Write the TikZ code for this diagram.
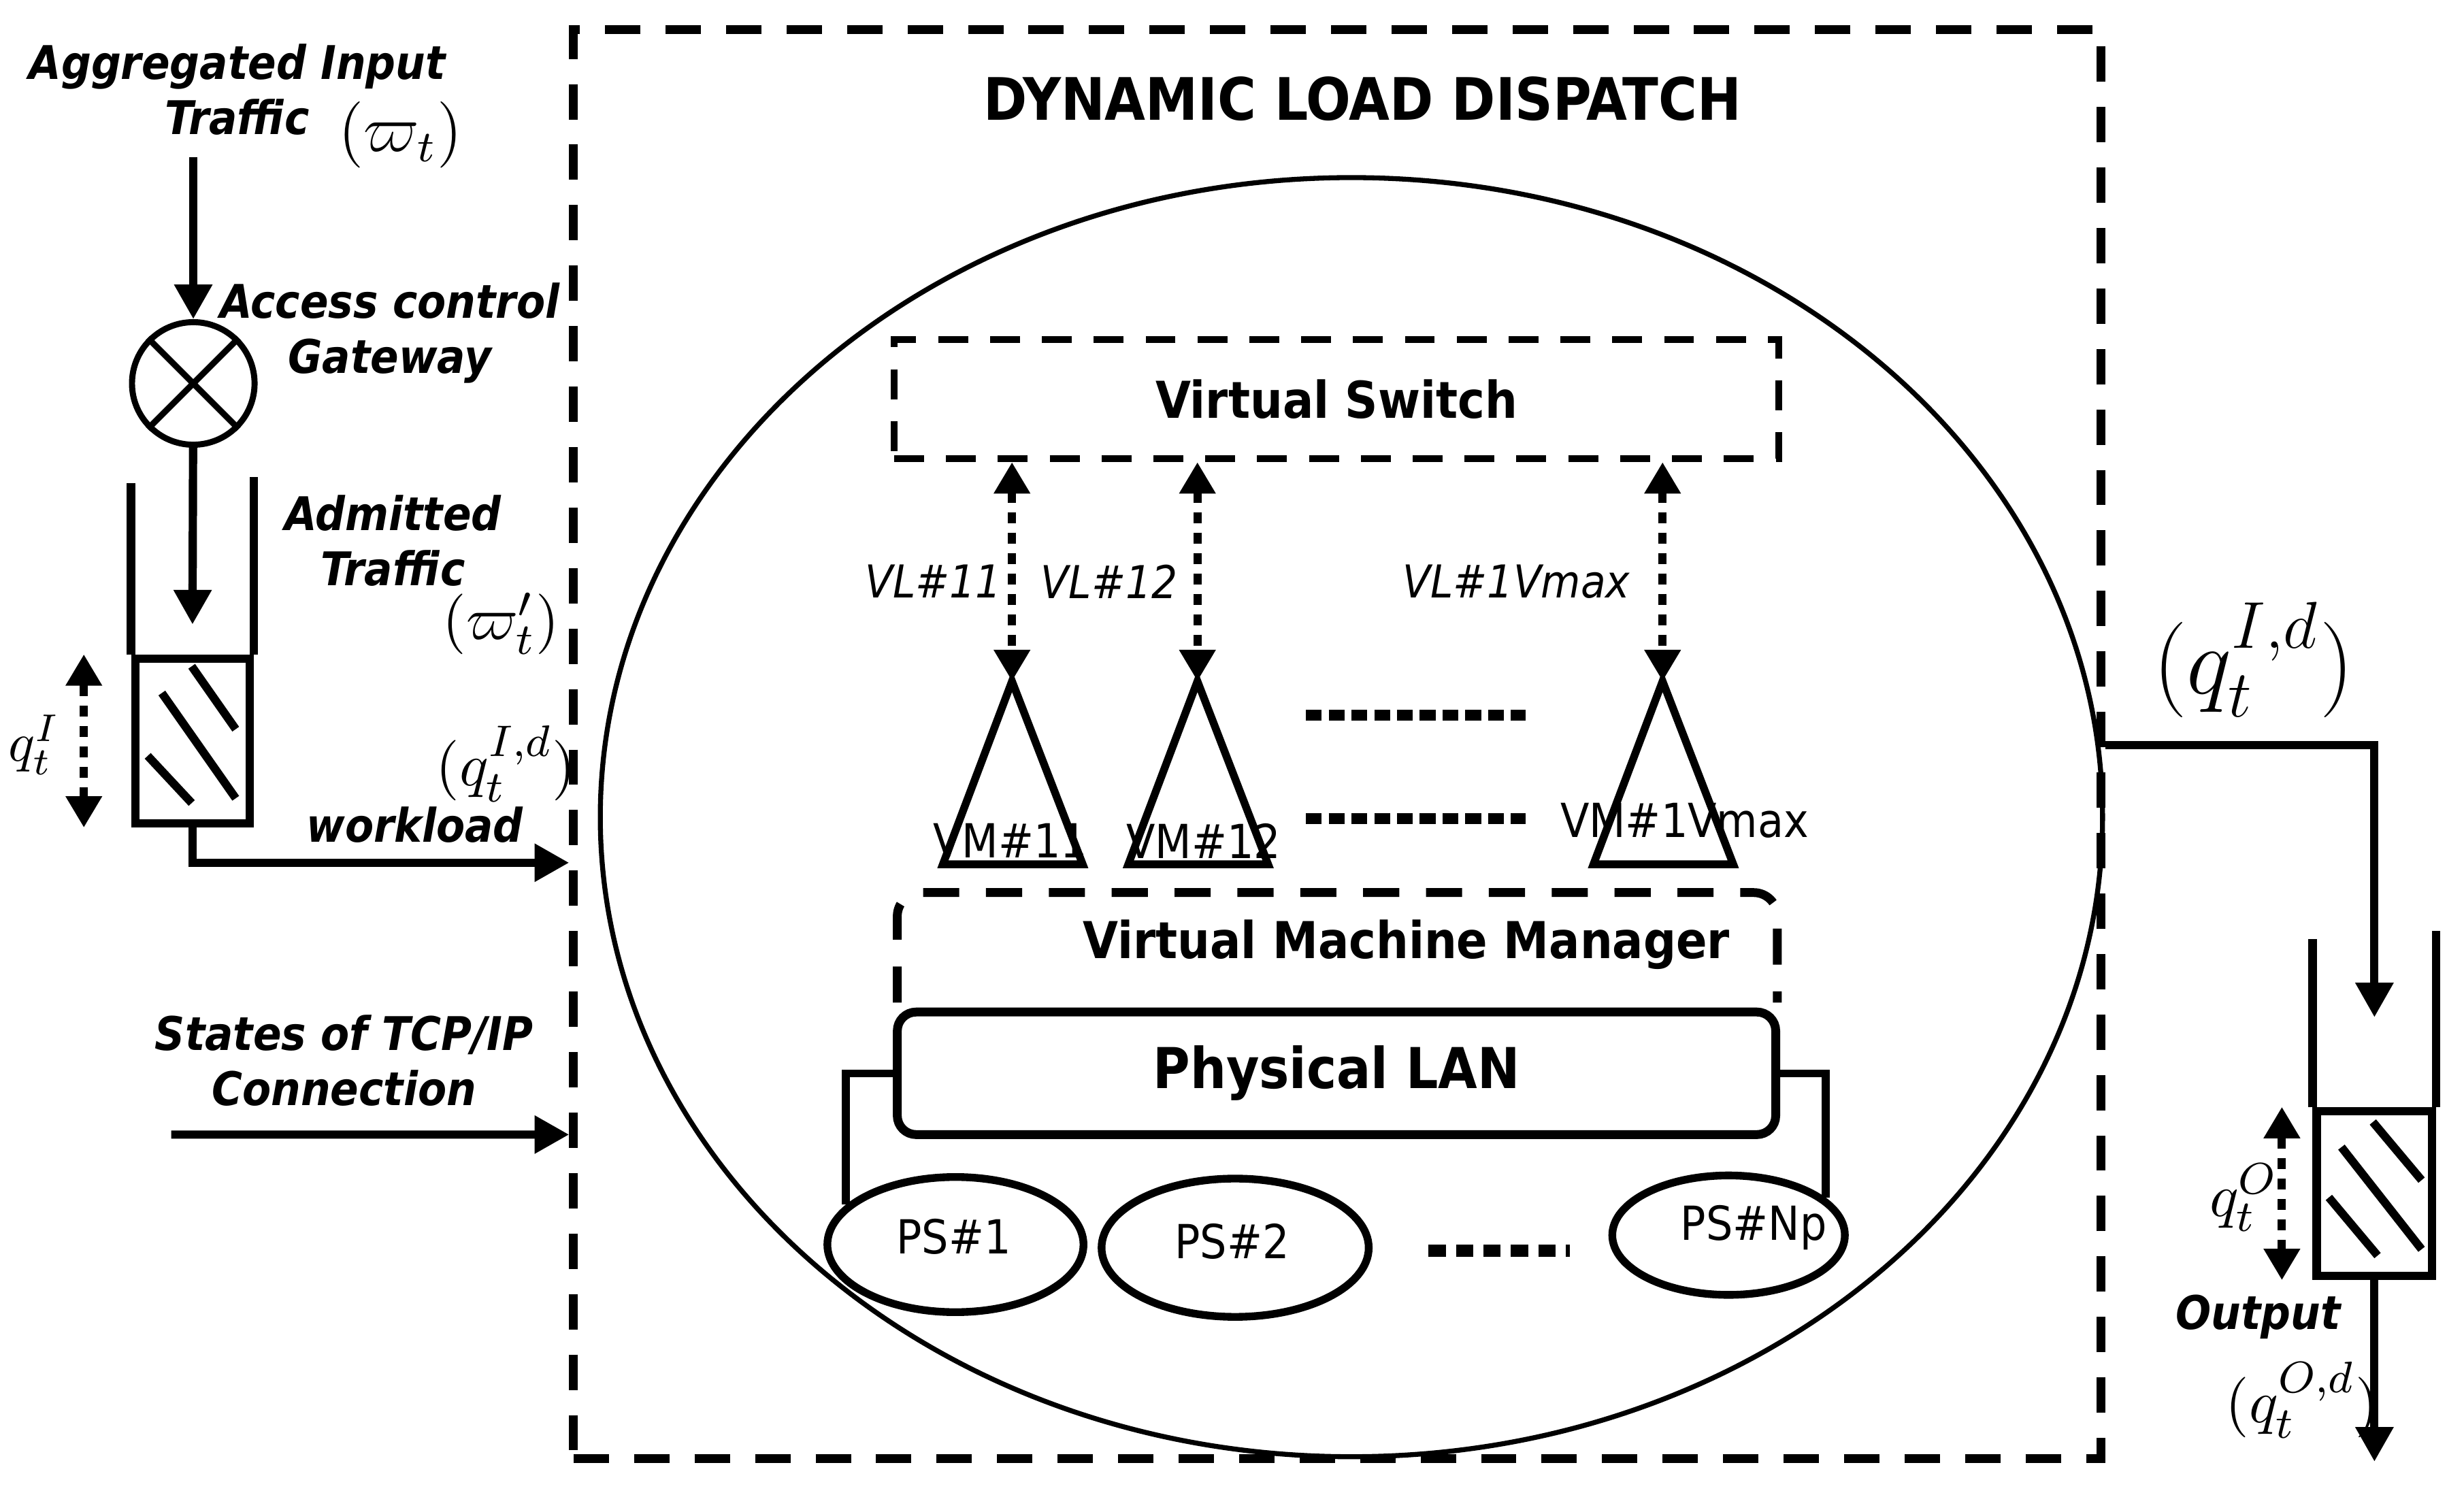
\documentclass[tikz,border=0pt]{standalone}
\usepackage{amsmath}
\usepackage{fontspec}
\setmainfont{DejaVu Sans Condensed}
\usetikzlibrary{arrows.meta,positioning,shapes.geometric}

\begin{document}
\begin{tikzpicture}[x=0.1mm,y=-0.1mm,
  headtip/.style={-{Triangle[width=2.3mm,length=2.2mm]}},
  flow/.style={line width=1.5pt,headtip},
  dotlink/.style={line width=1.5pt,dash pattern=on 0.7mm off 0.6mm,{Triangle[width=2.2mm,length=2mm]}-{Triangle[width=2.2mm,length=2mm]}},
  wall/.style={line width=1.5pt},
  hatch/.style={line width=1.5pt},
  lbl/.style={font=\fontsize{8.4}{10}\selectfont\bfseries\itshape,align=center,inner sep=0pt},
  mth/.style={inner sep=0pt,font=\fontsize{11}{11}\selectfont},
  box/.style={font=\fontsize{9.2}{11}\selectfont\bfseries,inner sep=0pt},
  vlabel/.style={font=\fontsize{8.2}{10}\selectfont\itshape,inner sep=0pt},
  plain/.style={font=\fontsize{8.5}{10}\selectfont,inner sep=0pt},
  dotrow/.style={line width=0.7mm,dash pattern=on 1mm off 0.45mm},
  dldframe/.style={draw,line width=1.6pt,dash pattern=on 2.25mm off 1.6mm,minimum width=97.2mm,minimum height=90.9mm,inner sep=0pt},
  server/.style={draw,ellipse,line width=1.4pt,inner sep=0pt},
]
\useasboundingbox (0,0) rectangle (1568,951);

\node[dldframe] (dld) at (851,473.5) {};
\node[box,font=\fontsize{10.6}{12}\selectfont\bfseries] (ttl) at (867,63) {DYNAMIC LOAD DISPATCH};
\draw[line width=0.9pt] (860,520) ellipse [x radius=47.8mm,y radius=40.7mm];

% input side
\node[lbl] (aggr) at (151,57) {Aggregated Input\\Traffic};
\node[mth,font=\fontsize{12}{12}\selectfont] (w) at (255,86) {$(\varpi_t)$};
\node[draw,circle,line width=1.1pt,minimum size=7.8mm,inner sep=0pt] (gate) at (123,244) {};
\draw[line width=1.1pt] (gate.45) -- (gate.225) (gate.135) -- (gate.-45);
\coordinate (src) at (123,100);
\draw[flow] (src) -- (gate);
\node[lbl] (acc) at (248,212) {Access control\\Gateway};

\node[draw,wall,minimum width=7.3mm,minimum height=10.5mm,inner sep=0pt] (qin) at (122.5,471.5) {};
\draw[wall] (qin.north west) -- ++(0,-109) (qin.north east) -- ++(0,-113);
\path (qin.north) ++(0,-19) coordinate (qtop);
\draw[flow] (gate) -- (qtop);
\draw[hatch] (122,424) -- (150,464) (103,441) -- (150,508) (94,481) -- (122,511);
\draw[dotlink] ([xshift=-3mm]qin.south west) -- ([xshift=-3mm]qin.north west);
\node[mth,font=\fontsize{10}{10}\selectfont] (qi) at (22,474) {$q_t^I$};

\node[lbl] (adm) at (250,344) {Admitted\\Traffic};
\node[mth] (w2) at (319,397) {$(\varpi'_t)$};
\node[mth] (qid) at (322,486) {$(q_t^{I,d})$};
\node[lbl] (wl) at (264,525) {workload};
\path (dld.west) ++(0,75.5) coordinate (win);
\draw[flow] (qin.south) |- (win);

\node[lbl] (tcp) at (219,675) {States of TCP/IP\\Connection};
\path (dld.west) ++(0,248.5) coordinate (sin);
\coordinate (sfrom) at (109,722);
\draw[flow] (sfrom) -- (sin);

% virtual machines
\node[draw,line width=1.2pt,dash pattern=on 1.9mm off 1.4mm,minimum width=56.3mm,minimum height=7.6mm,box] (vsw) at (850.5,254) {Virtual Switch};
\foreach \x/\n in {644/1,762/2,1058/3} {
  \coordinate (apex\n) at (\x,433.5);
  \draw[line width=1.4pt] (apex\n) -- ++(-44,116.5) -- ++(89,0) -- cycle;
  \draw[dotlink] (vsw.south -| apex\n) -- (apex\n);
}
\node[vlabel,anchor=east] (vl1) at (638,370) {VL\#11};
\node[vlabel,anchor=east] (vl2) at (750,370) {VL\#12};
\node[vlabel,anchor=east] (vl3) at (1038,370) {VL\#1Vmax};
\node[plain] (vm1) at (643,535) {VM\#11};
\node[plain] (vm2) at (766,535) {VM\#12};
\node[plain] (vm3) at (1072,522) {VM\#1Vmax};
\draw[dotrow] (831,455) -- (971,455);
\draw[dotrow] (831,521) -- (971,521);

\draw[line width=1.6pt,dash pattern=on 2.3mm off 1.7mm,rounded corners=1.5mm] (571,638) -- (571,568) -- (1131,568) -- (1131,638);
\node[box] (vmm) at (895,601) {Virtual Machine Manager};
\node[draw,line width=1.6pt,rounded corners=1.2mm,minimum width=55.9mm,minimum height=7.8mm,box,font=\fontsize{10.2}{12}\selectfont\bfseries] (lan) at (850.5,683) {Physical LAN};

% physical servers
\node[server,minimum width=16.3mm,minimum height=8.6mm] (ps1) at (608,792) {};
\node[server,minimum width=17mm,minimum height=8.8mm] (ps2) at (786,794) {};
\node[server,minimum width=14.8mm,minimum height=7.6mm] (psn) at (1100,786) {};
\node[plain] (ps1t) at (607,787) {PS\#1};
\node[plain] (ps2t) at (784,790) {PS\#2};
\node[plain] (psnt) at (1116,781) {PS\#Np};
\draw[dotrow,line width=0.8mm,dash pattern=on 1.1mm off 0.65mm] (909,796) -- (999,796);
\draw[line width=1.4pt] (lan.west) -| (ps1.160);
\draw[line width=1.4pt] (lan.east) -| (psn.21);

% output side
\path (dld.east) ++(0,0.5) coordinate (out);
\node[mth,font=\fontsize{17}{17}\selectfont] (qbig) at (1434,420) {$(q_t^{I,d})$};
\node[draw,wall,minimum width=7.35mm,minimum height=10.5mm,inner sep=0pt] (qout) at (1511,759.5) {};
\draw[wall] (qout.north west) -- ++(0,-107) (qout.north east) -- ++(0,-112);
\path (qout.north) ++(0,-57) coordinate (qotop);
\draw[flow] (out) -| (qotop);
\draw[hatch] (1510,714) -- (1541,751) (1490,730) -- (1541,795) (1482,762) -- (1513,799);
\draw[dotlink] ([xshift=-1.95mm]qout.south west) -- ([xshift=-1.95mm]qout.north west);
\node[mth] (qo) at (1428,762) {$q_t^O$};
\node[lbl] (outl) at (1437,838) {Output};
\node[mth] (qod) at (1465,891) {$(q_t^{O,d})$};
\path (qout.south) ++(0,115.5) coordinate (sink);
\draw[flow] (qout.south) -- (sink);
\end{tikzpicture}
\end{document}
